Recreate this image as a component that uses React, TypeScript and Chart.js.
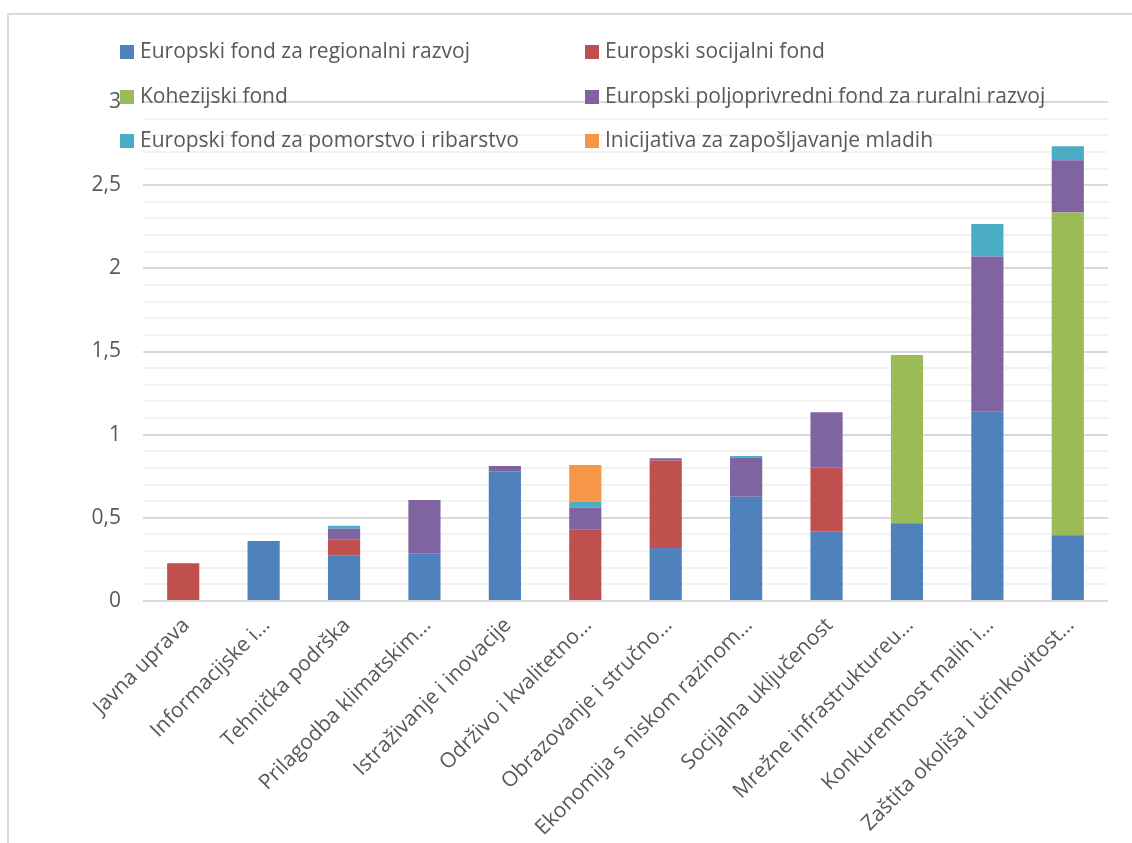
import React, { useEffect, useRef } from "react";
import { Chart, registerables } from "chart.js";

Chart.register(...registerables);

const categories = [
  "Javna uprava",
  "Informacijske i…",
  "Tehnička podrška",
  "Prilagodba klimatskim…",
  "Istraživanje i inovacije",
  "Održivo i kvalitetno…",
  "Obrazovanje i stručno…",
  "Ekonomija s niskom razinom…",
  "Socijalna uključenost",
  "Mrežne infrastruktureu…",
  "Konkurentnost malih i…",
  "Zaštita okoliša i učinkovitost…",
];

const seriesNames = [
  "Europski fond za regionalni razvoj",
  "Europski socijalni fond",
  "Kohezijski fond",
  "Europski poljoprivredni fond za ruralni razvoj",
  "Europski fond za pomorstvo i ribarstvo",
  "Inicijativa za zapošljavanje mladih",
];

const seriesColors = ["#4F81BD", "#C0504D", "#9BBB59", "#8064A2", "#4BACC6", "#F79646"];

const erdf = [0, 0.36, 0.275, 0.287, 0.78, 0, 0.319, 0.627, 0.419, 0.467, 1.141, 0.395];
const esf = [0.227, 0, 0.096, 0, 0, 0.431, 0.525, 0, 0.385, 0, 0, 0];
const cf = [0, 0, 0, 0, 0, 0, 0, 0, 0, 1.012, 0, 1.94];
const eafrd = [0, 0, 0.064, 0.32, 0.032, 0.13, 0.014, 0.235, 0.331, 0, 0.93, 0.315];
const emff = [0, 0, 0.018, 0, 0, 0.036, 0, 0.01, 0, 0, 0.195, 0.084];
const yei = [0, 0, 0, 0, 0, 0.221, 0, 0, 0, 0, 0, 0];

const seriesValues = [erdf, esf, cf, eafrd, emff, yei];

const yMin = 0;
const yMax = 3;
const minorStep = 0.1;

const FONT = "'Open Sans', 'DejaVu Sans', sans-serif";
const TEXT = "#595959";
const FONT_SIZE = 21;

const isMajor = (v: number) => {
  const r = Math.round(v * 10);
  return Math.abs(v * 10 - r) < 1e-6 && r % 5 === 0;
};

const legendPlugin = {
  id: "customLegend",
  afterDraw(chart: any) {
    const ctx = chart.ctx;
    const cols = [120, 585];
    const rows = [52, 97, 141];
    ctx.save();
    ctx.font = `${FONT_SIZE}px ${FONT}`;
    ctx.textBaseline = "middle";
    ctx.textAlign = "left";
    chart.data.datasets.forEach((ds: any, i: number) => {
      const x = cols[i % 2];
      const y = rows[Math.floor(i / 2)];
      ctx.fillStyle = ds.backgroundColor;
      ctx.fillRect(x, y - 7, 14, 14);
      ctx.fillStyle = TEXT;
      ctx.fillText(ds.label, x + 20, y);
    });
    ctx.restore();
  },
};

export default function App() {
  const ref = useRef<HTMLCanvasElement | null>(null);

  useEffect(() => {
    if (!ref.current) return;
    const chart = new Chart(ref.current, {
      type: "bar",
      data: {
        labels: categories,
        datasets: seriesNames.map((name, i) => ({
          label: name,
          data: seriesValues[i],
          backgroundColor: seriesColors[i],
          borderWidth: 0,
          barPercentage: 0.4,
          categoryPercentage: 1,
        })),
      },
      options: {
        responsive: false,
        animation: false,
        layout: { padding: { top: 102, right: 24, bottom: 0, left: 0 } },
        plugins: {
          legend: { display: false },
          tooltip: { enabled: false },
        },
        scales: {
          x: {
            stacked: true,
            grid: { display: false },
            border: { display: false },
            ticks: {
              autoSkip: false,
              maxRotation: 45,
              minRotation: 45,
              color: TEXT,
              font: { family: FONT, size: FONT_SIZE },
              padding: 4,
              labelOffset: 3,
            },
            afterFit: (scale: any) => {
              scale.height = 242;
            },
          },
          y: {
            stacked: true,
            min: yMin,
            max: yMax,
            border: { display: false },
            grid: {
              drawTicks: false,
              color: (c: any) => (isMajor(c.tick?.value ?? 0) ? "#d9d9d9" : "#f2f2f2"),
              lineWidth: 2,
            },
            ticks: {
              stepSize: minorStep,
              autoSkip: false,
              color: TEXT,
              font: { family: FONT, size: FONT_SIZE },
              padding: 22,
              callback: (v: any) => {
                const n = Number(v);
                if (!isMajor(n)) return "";
                return String(Math.round(n * 10) / 10).replace(".", ",");
              },
            },
            afterFit: (scale: any) => {
              scale.width = 143;
            },
          },
        },
      },
      plugins: [legendPlugin],
    });
    return () => chart.destroy();
  }, []);

  return (
    <div
      style={{
        position: "fixed",
        left: 0,
        top: 0,
        width: 1132,
        height: 843,
        background: "#fff",
        overflow: "hidden",
      }}
    >
      <div
        style={{
          position: "absolute",
          left: 7,
          top: 13,
          width: 1300,
          height: 1000,
          border: "2px solid #d9d9d9",
          boxSizing: "border-box",
        }}
      />
      <canvas
        ref={ref}
        width={1132}
        height={843}
        style={{ position: "absolute", left: 0, top: 0, width: 1132, height: 843 }}
      />
    </div>
  );
}
